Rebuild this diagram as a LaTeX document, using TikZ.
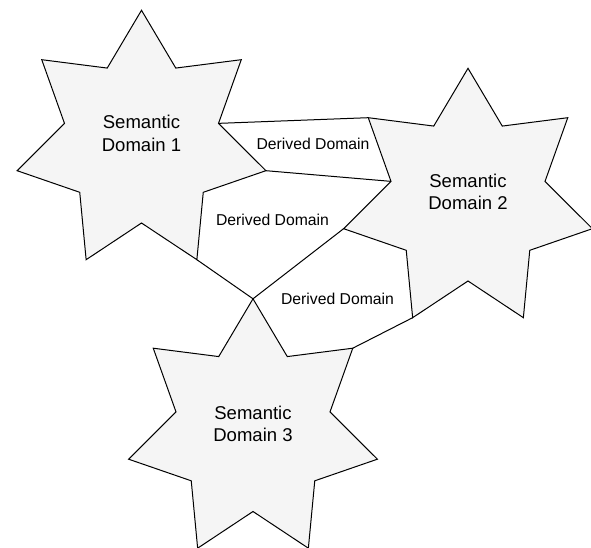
\documentclass[tikz,border=0pt]{standalone}
\usepackage{fontspec}
\setmainfont{Liberation Sans}
\definecolor{starfill}{HTML}{F5F5F5}
\begin{document}
\begin{tikzpicture}[x=0.75pt,y=-0.75pt,
  starshape/.style={draw=black, fill=starfill, line width=0.75pt, line join=miter},
  edgeline/.style={draw=black, line width=0.75pt},
  semlabel/.style={align=center, inner sep=0pt, font=\fontsize{13.9}{16.7}\selectfont},
  derlabel/.style={inner sep=0pt, font=\fontsize{11.8}{14}\selectfont}]
\useasboundingbox (0,0) rectangle (591,548);
\foreach \s/\cx/\cy in {1/141.5/141.5, 2/468/199.5, 3/253/430} {
  \foreach \k in {0,...,13} {
    \pgfmathsetmacro{\ang}{90-\k*360/14}
    \pgfmathsetmacro{\rx}{mod(\k,2)==1 ? 79 : 127.6}
    \pgfmathsetmacro{\ry}{mod(\k,2)==1 ? 81.5 : 131.2}
    \coordinate (s\s v\k) at ({\cx+\rx*cos(\ang)},{\cy-\ry*sin(\ang)});
  }
  \draw[starshape] (s\s v0) \foreach \k in {1,...,13}{ -- (s\s v\k)} -- cycle;
}
% derived domain boundaries
\draw[edgeline] (s1v3) -- (s2v12);
\draw[edgeline] (s1v4) -- (s2v11);
\draw[edgeline] (s1v6) -- (s3v0);
\draw[edgeline] (s3v0) -- (s2v10);
\draw[edgeline] (s2v8) -- (s3v2);
% labels
\node[semlabel] (sd1) at (141.5,133.5) {Semantic\\Domain 1};
\node[semlabel] (sd2) at (468,192) {Semantic\\Domain 2};
\node[semlabel] (sd3) at (253,424) {Semantic\\Domain 3};
\node[derlabel] (dd1) at (313,144) {Derived Domain};
\node[derlabel] (dd2) at (272.5,220) {Derived Domain};
\node[derlabel] (dd3) at (337.5,298.5) {Derived Domain};
\end{tikzpicture}
\end{document}
